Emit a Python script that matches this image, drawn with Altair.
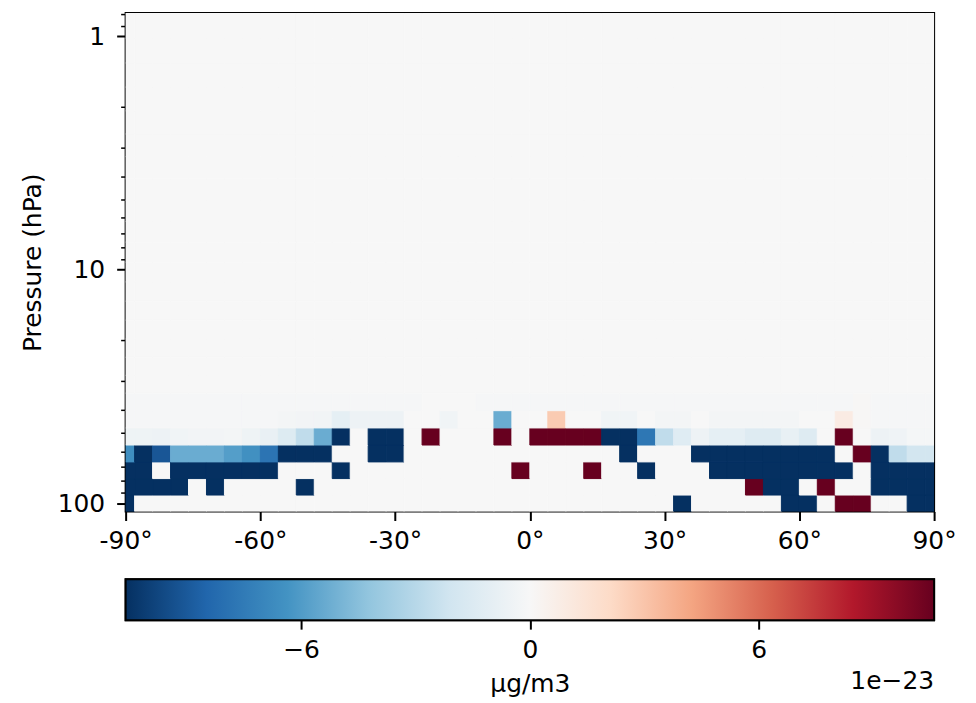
import altair as alt
import numpy as np
import pandas as pd

# Grid edges (latitude in degrees, pressure in hPa)
LAT_EDGES = [-90, -88, -84, -80, -76, -72, -68, -64, -60, -56, -52, -48, -44, -40,
             -36, -32, -28, -24, -20, -16, -12, -8, -4, 0, 4, 8, 12, 16, 20, 24, 28,
             32, 36, 40, 44, 48, 52, 56, 60, 64, 68, 72, 76, 80, 84, 88, 90]
P_EDGES = [108.663, 92.3657, 78.5123, 66.6034, 56.3879, 47.6439, 40.1754, 33.81,
           28.3678, 23.7304, 19.7916, 16.4571, 13.6434, 11.2769, 9.2929, 7.6198,
           6.2168, 5.0468, 4.0766, 3.2764, 2.6202, 2.0850, 1.6508, 1.3005, 1.0194,
           0.7951]

# Values in units of 1e-23 ug/m3, bottom row first
ROW_0 = [-10.6, 0, 0, 0, 0, 0, 0, 0, 0, 0,
         0, 0, 0, 0, 0, 0, 0, 0, 0, 0,
         0, 0, 0, 0, 0, 0, 0, 0, 0, 0,
         0, -10.6, 0, 0, 0, 0, 0, -10.6, -10.6, 0,
         10.6, 10.6, 0, 0, -10.6, -10.6]
ROW_1 = [-10.6, -10.6, -10.6, -10.6, 0, -10.6, 0, 0, 0, 0,
         -10.6, 0, 0, 0, 0, 0, 0, 0, 0, 0,
         0, 0, 0, 0, 0, 0, 0, 0, 0, 0,
         0, 0, 0, 0, 0, 10.6, -10.6, -10.6, 0, 10.6,
         0, 0, -10.6, -10.6, -10.6, -10.6]
ROW_2 = [-10.6, -10.6, 0, -10.6, -10.6, -10.6, -10.6, -10.6, -10.6, 0,
         0, 0, -10.6, 0, 0, 0, 0, 0, 0, 0,
         0, 0, 10.6, 0, 0, 0, 10.6, 0, 0, -10.6,
         0, 0, 0, -10.6, -10.6, -10.6, -10.6, -10.6, -10.6, -10.6,
         -10.6, 0, -10.6, -10.6, -10.6, -10.6]
ROW_3 = [-6.6, -10.6, -9.1, -5.3, -5.3, -5.3, -5.9, -6.5, -7.8, -10.6,
         -10.6, -10.6, 0, 0, -10.6, -10.6, 0, 0, 0, 0,
         0, 0, 0, 0, 0, 0, 0, 0, -10.6, 0,
         0, 0, -10.6, -10.6, -10.6, -10.6, -10.6, -10.6, -10.6, -10.6,
         0, 10.6, -10.6, -2.7, -2.0, -2.0]
ROW_4 = [-0.5, -0.5, -0.55, -0.4, -0.3, -0.3, -0.25, -0.5, -0.8, -1.45,
         -2.7, -5.3, -10.6, 0, -10.6, -10.6, 0, 10.6, 0, 0,
         0, 10.6, 0, 10.6, 10.6, 10.6, 10.6, -10.6, -10.6, -7.7,
         -2.7, -1.35, -0.55, -1.0, -1.0, -1.4, -1.4, -0.85, -1.4, 0,
         10.6, 0, -0.55, -0.45, -0.15, -0.15]
ROW_5 = [-0.1, -0.1, -0.1, -0.1, -0.1, -0.1, -0.1, -0.1, -0.1, -0.25,
         -0.3, -0.35, -1.0, -0.55, -0.55, -0.55, 0, 0, -0.4, 0,
         0, -5.3, 0, 0, 2.75, 0, 0, -0.4, -0.4, 0,
         -0.2, -0.2, 0, -0.2, -0.2, -0.2, -0.2, -0.2, 0, 0,
         0.9, 0.1, -0.1, -0.1, -0.1, -0.1]
ROW_6 = [-0.1, -0.1, -0.1, -0.1, -0.1, -0.1, -0.1, -0.1, -0.1, -0.1,
         -0.1, -0.1, -0.1, -0.1, -0.1, -0.1, -0.1, 0, 0, 0,
         -0.1, -0.1, -0.1, -0.1, -0.1, -0.1, -0.1, -0.1, -0.1, -0.1,
         -0.1, -0.1, -0.1, -0.1, -0.1, -0.1, -0.1, -0.1, -0.1, -0.1,
         -0.1, 0.1, -0.1, -0.1, -0.1, -0.1]
ROW_UPPER = [0, 0, 0, 0, 0, 0, 0, 0, 0, 0,
             0, 0, 0, 0, 0, 0, 0, 0, 0, 0,
             0, 0, 0, 0, 0, 0, 0, 0, 0, 0,
             0, 0, 0, 0, 0, 0, 0, 0, 0, 0,
             0, 0, 0, 0, 0, 0]
ROWS = [ROW_0, ROW_1, ROW_2, ROW_3, ROW_4, ROW_5, ROW_6] + [ROW_UPPER] * 18

VMAX = 10.6
RDBU_R = ["#053061", "#2166ac", "#4393c3", "#92c5de", "#d1e5f0", "#f7f7f7",
          "#fddbc7", "#f4a582", "#d6604d", "#b2182b", "#67001f"]
CB_TICKS = [-6, 0, 6]
X_TICKS = [-90, -60, -30, 0, 30, 60, 90]
Y_TICKS = [0.8, 0.9, 1, 2, 3, 4, 5, 6, 7, 8, 9, 10, 20, 30, 40, 50, 60, 70, 80, 90, 100]

records = []
for i, row in enumerate(ROWS):
    for j, v in enumerate(row):
        records.append({"lat0": LAT_EDGES[j], "lat1": LAT_EDGES[j + 1],
                        "p0": P_EDGES[i], "p1": P_EDGES[i + 1], "v": v})
df = pd.DataFrame(records)

FONT = "DejaVu Sans"
stops_dom = [float(d) for d in np.linspace(-VMAX, VMAX, len(RDBU_R))]
cscale = alt.Scale(domain=stops_dom, range=RDBU_R, clamp=True, interpolate="rgb")

major = "indexof([1, 10, 100], datum.value) >= 0"

heat = alt.Chart(df).mark_rect(clip=True, strokeWidth=1).encode(
    x=alt.X("lat0:Q", scale=alt.Scale(domain=[-90, 90], nice=False, zero=False),
            axis=alt.Axis(values=X_TICKS, labelExpr="datum.value + '°'", title=None,
                          tickSize=9, labelPadding=8, labelFlush=False)),
    x2="lat1:Q",
    y=alt.Y("p0:Q", scale=alt.Scale(type="log", domain=[0.7951, 108.663], nice=False, reverse=True),
            axis=alt.Axis(values=Y_TICKS, title="Pressure (hPa)",
                          labelExpr=major + " ? datum.value + '' : ''",
                          tickSize={"condition": {"test": major, "value": 9}, "value": 5},
                          tickWidth={"condition": {"test": major, "value": 2}, "value": 1.5},
                          labelPadding=12, titlePadding=12, labelFlush=False)),
    y2="p1:Q",
    color=alt.Color("v:Q", scale=cscale, legend=None),
    stroke=alt.Stroke("v:Q", scale=cscale, legend=None),
).properties(width=811, height=500)

cb_df = pd.DataFrame({"lo": [-VMAX], "hi": [VMAX], "txt": ["1e\u221223"]})
grad = alt.Gradient(
    gradient="linear", x1=0, y1=0, x2=1, y2=0,
    stops=[alt.GradientStop(color=c, offset=k / (len(RDBU_R) - 1)) for k, c in enumerate(RDBU_R)],
)
cb_axis = alt.Axis(values=CB_TICKS, title="µg/m3", tickSize=9, labelPadding=8,
                   titlePadding=10, labelExpr="replace(datum.label, '-', '\u2212')")
cb_x_scale = alt.Scale(domain=[-VMAX, VMAX], nice=False, zero=False)
cb_rect = alt.Chart(cb_df).mark_rect(fill=grad, stroke="black", strokeWidth=2).encode(
    x=alt.X("lo:Q", scale=cb_x_scale, axis=cb_axis, title="µg/m3"),
    x2="hi:Q",
)
cb_text = alt.Chart(cb_df).mark_text(align="right", baseline="alphabetic", fontSize=25,
                                     font=FONT, color="black").encode(
    x=alt.X("hi:Q", scale=cb_x_scale, axis=cb_axis, title="µg/m3"),
    y=alt.value(110),
    text="txt:N",
)
cbar = alt.layer(cb_rect, cb_text).properties(width=811, height=41)

chart = alt.vconcat(heat, cbar, spacing=23).properties(
    padding={"left": 11, "top": 3, "right": 10, "bottom": 5}
).configure_view(
    stroke="black", strokeWidth=2
).configure_axis(
    domain=False, grid=False, labelFont=FONT, titleFont=FONT, labelFontSize=25,
    titleFontSize=25, titleFontWeight="normal", labelColor="black", titleColor="black",
    tickColor="black", tickWidth=2
)

chart.save("out.html", embed_options={"renderer": "svg", "actions": False})
